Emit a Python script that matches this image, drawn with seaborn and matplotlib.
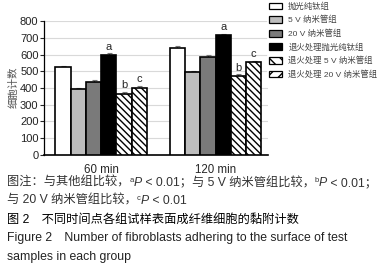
import matplotlib
matplotlib.use("Agg")
import matplotlib.pyplot as plt
import numpy as np
import pandas as pd
import seaborn as sns
from matplotlib.patches import Patch

# values
times = ["60 min", "120 min"]
groups = ["抛光纯钛组", "5 V 纳米管组", "20 V 纳米管组", "退火处理抛光纯钛组",
          "退火处理 5 V 纳米管组", "退火处理 20 V 纳米管组"]
counts_60 = [524, 392, 438, 600, 366, 402]
counts_120 = [638, 494, 584, 716, 470, 554]
err_60 = [10, 8, 12, 10, 12, 12]
err_120 = [14, 10, 12, 10, 12, 10]
marks = ["", "", "", "a", "b", "c"]

colors = ["white", "#bdbdbd", "#7a7a7a", "black", "white", "white"]
bar_hatch = [None, None, None, None, "\\" * 5, "\\" * 5]
legend_hatch = [None, None, None, None, "\\" * 3, "/" * 3]

sns.set_style("white")
plt.rcParams['font.family'] = ['Liberation Sans', 'Noto Sans CJK SC', 'DejaVu Sans']
plt.rcParams['hatch.linewidth'] = 1.0

df = pd.DataFrame({
    "time": np.repeat(times, len(groups)),
    "group": groups * 2,
    "count": counts_60 + counts_120,
    "err": err_60 + err_120,
})

fig = plt.figure(figsize=(3.83, 2.70), dpi=100)
ax = fig.add_axes([0.115, 0.427, 0.585, 0.497])

sns.barplot(data=df, x="time", y="count", hue="group", hue_order=groups,
            palette=colors, edgecolor="black", linewidth=1.2, saturation=1,
            errorbar=None, legend=False, ax=ax, zorder=3)

bar_conts = list(ax.containers)
for i, cont in enumerate(bar_conts):
    sub = df[df.group == groups[i]]
    xs = [p.get_x() + p.get_width() / 2 for p in cont.patches]
    ys = sub["count"].values
    es = sub["err"].values
    for p in cont.patches:
        if bar_hatch[i]:
            p.set_hatch(bar_hatch[i])
    ax.errorbar(xs, ys, yerr=[np.zeros_like(es), es], fmt="none", ecolor="#777777",
                elinewidth=0.8, capsize=1.8, capthick=0.8, zorder=2)
    if marks[i]:
        for x, y, e in zip(xs, ys, es):
            ax.text(x, y + e + 8, marks[i], ha="center", va="bottom", fontsize=8)

ax.set_ylim(0, 805)
ax.set_xlim(-0.5, 1.46)
ax.set_yticks(range(0, 801, 100))
ax.yaxis.grid(True, color="#d9d9d9", linewidth=0.8, zorder=0)
ax.set_axisbelow(True)
ax.tick_params(axis="y", left=True, length=3, width=0.8, labelsize=8,
               labelcolor="#222222", pad=1)
ax.tick_params(axis="x", bottom=False, labelsize=8.3, pad=3)
ax.set_xlabel("")
ax.set_ylabel("细胞计数", fontsize=7.5, color="#555555")
ax.yaxis.set_label_coords(-0.115, 0.5)
for s in ["top", "right"]:
    ax.spines[s].set_visible(False)
ax.spines["left"].set_linewidth(0.9)
ax.spines["bottom"].set_linewidth(1.2)
ax.spines["left"].set_color("black")
ax.spines["bottom"].set_color("black")

handles = [Patch(facecolor=c, edgecolor="black", linewidth=0.9, hatch=h)
           for c, h in zip(colors, legend_hatch)]
leg = fig.legend(handles, groups, loc="upper left", bbox_to_anchor=(0.685, 1.016),
                 fontsize=6.0, frameon=True, handlelength=1.6, handleheight=0.85,
                 labelspacing=0.62, handletextpad=0.7, borderpad=0.3)
leg.get_frame().set_linewidth(0)
leg.get_frame().set_facecolor("white")
for t in leg.get_texts():
    t.set_color("#444444")

# caption lines
cap_size = 8.8


def chain(parts, x, y, color):
    base = fig.text(x, y, parts[0][0], fontsize=cap_size, color=color, va="baseline")
    prev = base
    for s, kind in parts[1:]:
        if kind == "sup":
            prev = ax.annotate(s, xy=(1, 0.55), xycoords=(prev, base), va="baseline",
                               fontsize=5.5, color=color, annotation_clip=False)
        elif kind == "it":
            prev = ax.annotate(s, xy=(1, 0), xycoords=(prev, base), va="bottom",
                               fontsize=cap_size, style="italic", color=color,
                               annotation_clip=False)
        else:
            prev = ax.annotate(s, xy=(1, 0), xycoords=(prev, base), va="bottom",
                               fontsize=cap_size, color=color, annotation_clip=False)
    return base


chain([("图注：与其他组比较，", ""), ("a", "sup"), ("P", "it"),
       (" < 0.01；与 5 V 纳米管组比较，", ""), ("b", "sup"), ("P", "it"),
       (" < 0.01；", "")], 0.018, 1 - 186 / 270, "#333333")
chain([("与 20 V 纳米管组比较，", ""), ("c", "sup"), ("P", "it"),
       (" < 0.01", "")], 0.018, 1 - 204 / 270, "#333333")
fig.text(0.018, 1 - 223 / 270, "图 2　不同时间点各组试样表面成纤维细胞的黏附计数",
         fontsize=cap_size, color="black", va="baseline")
fig.text(0.018, 1 - 241 / 270,
         "Figure 2　Number of fibroblasts adhering to the surface of test",
         fontsize=cap_size, color="#222222", va="baseline")
fig.text(0.018, 1 - 260 / 270, "samples in each group",
         fontsize=cap_size, color="#222222", va="baseline")

fig.savefig("out.png", dpi=100)
